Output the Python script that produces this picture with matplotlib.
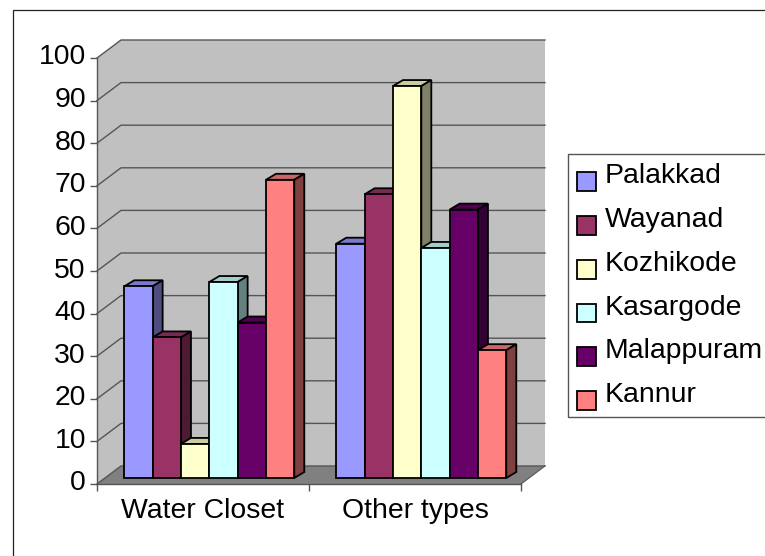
"""Recreation of a pseudo-3D clustered bar chart of toilet types by district."""

import matplotlib.pyplot as plt
from matplotlib.colors import to_rgb
from matplotlib.legend_handler import HandlerPatch
from matplotlib.patches import Patch, Rectangle
from matplotlib.transforms import ScaledTranslation

plt.rcParams["font.family"] = ["Liberation Sans", "DejaVu Sans"]

categories = ["Water Closet", "Other types"]
districts = ["Palakkad", "Wayanad", "Kozhikode", "Kasargode", "Malappuram", "Kannur"]
water_closet = [45, 33, 8, 46, 36.5, 70]
other_types = [55, 66.6, 92, 54, 63, 30]
colors = ["#9999FF", "#993366", "#FFFFCC", "#CCFFFF", "#660066", "#FF8080"]
y_ticks = list(range(0, 101, 10))

W, H = 765, 556
fig = plt.figure(figsize=(W / 100, H / 100), dpi=100)

# Axes cover the front plane of the fake 3D box
ax = fig.add_axes([97 / W, 1 - 484 / H, 424 / W, 426 / H])
ax.set_xlim(0, 2)
ax.set_ylim(0, 100)
ax.patch.set_visible(False)

# Pixels to data units
px_x = 2 / 424
px_y = 100 / 426

wall_dx, wall_dy = 24 * px_x, 18 * px_y
bar_dx, bar_dy = 10 * px_x, 6 * px_y
base_dx, base_dy = 6.3 * px_x, 6 * px_y
bar_w = 28.33 * px_x

GREY_LINE = "#555555"


def shade(color, k):
    return tuple(c * k for c in to_rgb(color))


# Chart frame, runs off the right and bottom of the picture
fig.patches.append(Rectangle((13 / W, -0.1), 1.1, 1.1 - 10 / H,
                             transform=fig.transFigure, fill=False,
                             edgecolor="#222222", linewidth=0.9))

# Walls and floor, one outline for back and side so no seam shows
ax.fill([0, wall_dx, 2 + wall_dx, 2 + wall_dx, wall_dx, 0],
        [0, wall_dy, wall_dy, 100 + wall_dy, 100 + wall_dy, 100],
        color="#C0C0C0", lw=0, clip_on=False, zorder=1)
ax.fill([0, 2, 2 + wall_dx, wall_dx], [0, 0, wall_dy, wall_dy],
        color="#808080", lw=0, clip_on=False, zorder=1)

for v in y_ticks:
    ax.plot([0, wall_dx, 2 + wall_dx], [v, v + wall_dy, v + wall_dy],
            color=GREY_LINE, lw=1.0, clip_on=False, zorder=2)
ax.plot([2, 2 + wall_dx], [0, wall_dy], color=GREY_LINE, lw=0.8, clip_on=False, zorder=2)

# Bars, left to right so each front covers the side of the one before
z = 3
for g, values in enumerate([water_closet, other_types]):
    for i, v in enumerate(values):
        left = g + 0.5 + base_dx + (i - 3) * bar_w
        right = left + bar_w
        bottom = base_dy
        top = bottom + v
        c = colors[i]
        ax.fill([left, right, right + bar_dx, left + bar_dx],
                [top, top, top + bar_dy, top + bar_dy],
                facecolor=shade(c, 0.8), edgecolor="black", lw=1.3,
                clip_on=False, zorder=z)
        ax.fill([right, right + bar_dx, right + bar_dx, right],
                [bottom, bottom + bar_dy, top + bar_dy, top],
                facecolor=shade(c, 0.5), edgecolor="black", lw=1.3,
                clip_on=False, zorder=z)
        ax.bar(left, v, width=bar_w, bottom=bottom, align="edge", color=c,
               edgecolor="black", linewidth=1.3, clip_on=False, zorder=z + 1)
        z += 2

# Axes furniture
for side in ["top", "right"]:
    ax.spines[side].set_visible(False)
for side in ["left", "bottom"]:
    ax.spines[side].set_color(GREY_LINE)
    ax.spines[side].set_linewidth(1.0)
    ax.spines[side].set_zorder(2)

ax.set_yticks(y_ticks)
ax.set_xticks([0, 1, 2])
ax.set_xticklabels([])
ax.set_xticks([0.5, 1.5], categories, minor=True)
ax.tick_params(axis="both", which="major", length=5, width=1.0, color=GREY_LINE,
               labelsize=20.4, pad=3, labelcolor="black")
ax.tick_params(axis="x", which="minor", length=0, labelsize=20.4, pad=10)

# y labels sit a little above their ticks
lift = ScaledTranslation(0, 3.5 / 100, fig.dpi_scale_trans)
for label in ax.get_yticklabels():
    label.set_transform(label.get_transform() + lift)


def offset_patch(legend, orig_handle, xdescent, ydescent, width, height, fontsize):
    return Rectangle((-xdescent, -ydescent - 6), width, height)


handles = [Patch(facecolor=c, edgecolor="black", linewidth=1.3) for c in colors]
leg = fig.legend(handles, districts, loc="upper left",
                 bbox_to_anchor=(568 / W, 1 - 154 / H), borderaxespad=0,
                 fontsize=20.4, fancybox=False, framealpha=1,
                 edgecolor=GREY_LINE, handlelength=0.67, handleheight=0.64,
                 handletextpad=0.3, labelspacing=0.63, borderpad=0.32,
                 handler_map={Patch: HandlerPatch(patch_func=offset_patch)})
leg.get_frame().set_linewidth(1.0)

plt.savefig("out.png", dpi=100)
